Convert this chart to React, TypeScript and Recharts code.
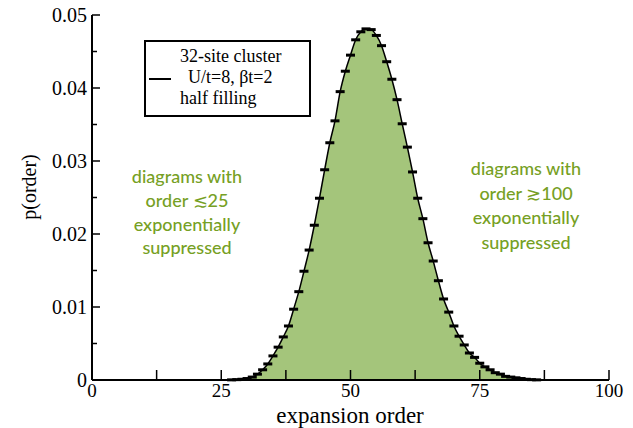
import { ComposedChart, Area, Scatter, XAxis, YAxis } from 'recharts';

// expansion order and the measured p(order)
const orders = [
  25, 26, 27, 28, 29, 30, 31, 32, 33, 34, 35, 36, 37, 38, 39, 40, 41, 42, 43, 44, 45,
  46, 47, 48, 49, 50, 51, 52, 53, 54, 55, 56, 57, 58, 59, 60, 61, 62, 63, 64, 65, 66,
  67, 68, 69, 70, 71, 72, 73, 74, 75, 76, 77, 78, 79, 80, 81, 82, 83, 84, 85, 86, 87, 88,
];
const probs = [
  0, 0, 0.00002, 0.00005, 0.0001, 0.0002, 0.0004, 0.0008, 0.0014, 0.0022, 0.0033, 0.0045,
  0.0059, 0.0074, 0.0097, 0.0121, 0.0149, 0.0178, 0.0212, 0.0249, 0.0288, 0.0325, 0.0355,
  0.0395, 0.0423, 0.0445, 0.0466, 0.0477, 0.0481, 0.048, 0.0472, 0.0458, 0.0436, 0.0412,
  0.0384, 0.0351, 0.0319, 0.0285, 0.0249, 0.0221, 0.0188, 0.0163, 0.0136, 0.0111, 0.0093,
  0.0074, 0.006, 0.0048, 0.0037, 0.0031, 0.0023, 0.0018, 0.0014, 0.001, 0.0008, 0.0005,
  0.0004, 0.0003, 0.0002, 0.0001, 0.00005, 0.00002, 0, 0,
];

const xTicks = [0, 12.5, 25, 37.5, 50, 62.5, 75, 87.5, 100];
const yTicks = [0, 0.005, 0.01, 0.015, 0.02, 0.025, 0.03, 0.035, 0.04, 0.045, 0.05];

const legendLines = ['32-site cluster', 'U/t=8, βt=2', 'half filling'];
const leftNote = ['diagrams with', 'order ≲25', 'exponentially', 'suppressed'];
const rightNote = ['diagrams with', 'order ≳100', 'exponentially', 'suppressed'];

const data = orders.map((o, i) => ({ order: o, p: probs[i] }));
const marks = data.filter((d) => d.p > 0.00001);

const SERIF = '"Liberation Serif", "DejaVu Serif", serif';
const SANS = 'Lato, "Open Sans", sans-serif';
const GREEN_TEXT = '#76a024';

const isMajorY = (v: number) => Math.round(v * 1000) % 10 === 0;

const BottomTick = ({ x, y, payload }: any) => (
  <g>
    <line x1={x} x2={x} y1={y} y2={y - 10} stroke="#000" strokeWidth={1.5} />
    {payload.value % 25 === 0 && (
      <text x={x} y={y + 17} textAnchor="middle" fontSize={19} fontFamily={SERIF} fill="#000">
        {payload.value}
      </text>
    )}
  </g>
);

const TopTick = ({ x, y }: any) => (
  <line x1={x} x2={x} y1={y} y2={y + 9} stroke="#000" strokeWidth={1.5} />
);

const LeftTick = ({ x, y, payload }: any) => {
  const major = isMajorY(payload.value);
  return (
    <g>
      <line x1={x} x2={x + (major ? 8 : 5)} y1={y} y2={y} stroke="#000" strokeWidth={1.5} />
      {major && (
        <text x={x - 5} y={y + 7} textAnchor="end" fontSize={20} fontFamily={SERIF} fill="#000">
          {payload.value === 0 ? '0' : payload.value.toFixed(2)}
        </text>
      )}
    </g>
  );
};

const RightTick = ({ x, y, payload }: any) => {
  const major = isMajorY(payload.value);
  return <line x1={x} x2={x - (major ? 8 : 5)} y1={y} y2={y} stroke="#000" strokeWidth={1.5} />;
};

const Dash = ({ cx, cy }: any) => (
  <rect x={cx - 4.5} y={cy - 1.5} width={9} height={3} fill="#000" />
);

export default function App() {
  return (
    <div style={{ position: 'absolute', left: 0, top: 0, width: 633, height: 428, background: '#fff' }}>
      <ComposedChart width={633} height={428} data={data} margin={{ top: 15, right: 24, left: 32, bottom: 0 }}>
        <XAxis
          dataKey="order"
          type="number"
          domain={[0, 100]}
          ticks={xTicks}
          interval={0}
          height={48}
          tickSize={0}
          tickMargin={0}
          tick={<BottomTick />}
          axisLine={{ stroke: '#000', strokeWidth: 2 }}
        />
        <XAxis
          xAxisId="top"
          orientation="top"
          dataKey="order"
          type="number"
          domain={[0, 100]}
          ticks={xTicks}
          interval={0}
          height={0}
          tickSize={0}
          tickMargin={0}
          tick={<TopTick />}
          axisLine={{ stroke: '#000', strokeWidth: 2 }}
        />
        <YAxis
          type="number"
          domain={[0, 0.05]}
          ticks={yTicks}
          interval={0}
          width={60}
          tickSize={0}
          tickMargin={0}
          tick={<LeftTick />}
          axisLine={{ stroke: '#000', strokeWidth: 2 }}
        />
        <YAxis
          yAxisId="right"
          orientation="right"
          type="number"
          domain={[0, 0.05]}
          ticks={yTicks}
          interval={0}
          width={0}
          tickSize={0}
          tickMargin={0}
          tick={<RightTick />}
          axisLine={{ stroke: '#000', strokeWidth: 2 }}
        />
        <Area
          type="monotone"
          dataKey="p"
          stroke="#000"
          strokeWidth={1.5}
          fill="#a4c57b"
          fillOpacity={1}
          isAnimationActive={false}
        />
        <Scatter data={marks} dataKey="p" shape={<Dash />} isAnimationActive={false} />
      </ComposedChart>

      {/* legend box */}
      <div
        style={{
          position: 'absolute', left: 144, top: 40, width: 163, height: 73,
          border: '2px solid #000', fontFamily: SERIF, fontSize: 18, lineHeight: '21px',
        }}
      >
        <div style={{ position: 'absolute', left: 3, top: 36, width: 22, height: 2, background: '#000' }} />
        <div style={{ position: 'absolute', left: 34, top: 4, whiteSpace: 'nowrap' }}>{legendLines[0]}</div>
        <div style={{ position: 'absolute', left: 42, top: 25, whiteSpace: 'nowrap' }}>{legendLines[1]}</div>
        <div style={{ position: 'absolute', left: 34, top: 46, whiteSpace: 'nowrap' }}>{legendLines[2]}</div>
      </div>

      {/* annotations */}
      <div
        style={{
          position: 'absolute', left: 107, top: 165, width: 160, textAlign: 'center',
          fontFamily: SANS, fontSize: 18, lineHeight: '23.8px', color: GREEN_TEXT, fontWeight: 500,
        }}
      >
        {leftNote.map((t) => <div key={t}>{t}</div>)}
      </div>
      <div
        style={{
          position: 'absolute', left: 446, top: 156, width: 160, textAlign: 'center',
          fontFamily: SANS, fontSize: 18, lineHeight: '24.6px', color: GREEN_TEXT, fontWeight: 500,
        }}
      >
        {rightNote.map((t) => <div key={t}>{t}</div>)}
      </div>

      {/* axis titles */}
      <div
        style={{
          position: 'absolute', left: 29, top: 187, transform: 'translate(-50%, -50%) rotate(-90deg)',
          fontFamily: SERIF, fontSize: 20, lineHeight: 1, whiteSpace: 'nowrap',
        }}
      >
        p(order)
      </div>
      <div
        style={{
          position: 'absolute', left: 350, top: 415, transform: 'translate(-50%, -50%)',
          fontFamily: SERIF, fontSize: 23, lineHeight: 1, whiteSpace: 'nowrap',
        }}
      >
        expansion order
      </div>
    </div>
  );
}
